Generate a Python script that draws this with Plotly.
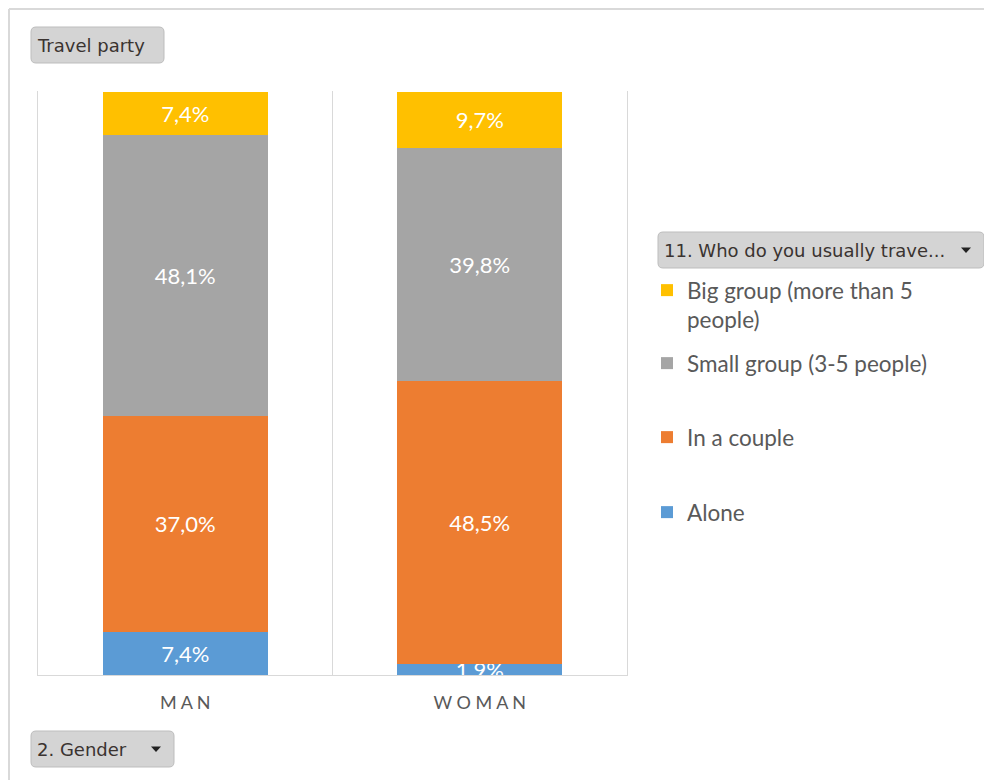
import plotly.graph_objects as go

categories = ["MAN", "WOMAN"]
tick_labels = ["M A N", "W O M A N"]
series_names = ["Alone", "In a couple", "Small group (3-5 people)", "Big group (more than 5<br>people)"]
alone = [7.4, 1.9]
couple = [37.0, 48.5]
small = [48.1, 39.8]
big = [7.4, 9.7]
colors = ["#5B9BD5", "#ED7D31", "#A5A5A5", "#FFC000"]

# page offset of the figure (browser body margin)
OFF = 8
W, H = 992 - OFF, 780 - OFF
L, R, T, B = 38, 627, 91, 675   # plot area in page pixels
PW, PH = R - L, B - T

def px(x):
    return (x - L) / PW

def py(y):
    return (B - y) / PH

FONT = "Lato"
legend_ids = ["legend4", "legend3", "legend2", "legend"]
legend_tops = [491, 416, 342, 269]

fig = go.Figure()
for i, (name, vals) in enumerate(zip(series_names, [alone, couple, small, big])):
    fig.add_trace(go.Bar(
        x=categories, y=vals, name=name,
        marker=dict(color=colors[i], line=dict(width=0)),
        text=[f"{v:.1f}%".replace(".", ",") for v in vals],
        textposition="inside", insidetextanchor="middle", textangle=0,
        constraintext="none",
        textfont=dict(color="white", size=22, family=FONT),
        legend=legend_ids[i],
        hoverinfo="skip",
    ))

shapes = []
annotations = []

# chart border
shapes.append(dict(type="line", xref="paper", yref="paper", x0=px(9), x1=px(9), y0=py(9), y1=py(790),
                   line=dict(color="#d9d9d9", width=2)))
shapes.append(dict(type="line", xref="paper", yref="paper", x0=px(9), x1=px(1000), y0=py(9), y1=py(9),
                   line=dict(color="#d9d9d9", width=2)))

def button(x0, y0, x1, y1, text, arrow=False):
    r = 5
    X0, X1, Y0, Y1 = px(x0), px(x1), py(y0), py(y1)
    rx, ry = r / PW, r / PH
    path = (f"M {X0+rx},{Y0} L {X1-rx},{Y0} Q {X1},{Y0} {X1},{Y0-ry} "
            f"L {X1},{Y1+ry} Q {X1},{Y1} {X1-rx},{Y1} L {X0+rx},{Y1} "
            f"Q {X0},{Y1} {X0},{Y1+ry} L {X0},{Y0-ry} Q {X0},{Y0} {X0+rx},{Y0} Z")
    shapes.append(dict(type="path", xref="paper", yref="paper", path=path,
                       fillcolor="#d4d4d4", line=dict(color="#bdbdbd", width=1)))
    annotations.append(dict(xref="paper", yref="paper", x=px(x0 + 4), y=py((y0 + y1) / 2),
                            xanchor="left", yanchor="middle", showarrow=False, text=text,
                            font=dict(family="DejaVu Sans", size=18, color="#3a3330")))
    if arrow:
        ax = x1 - 18
        ay = (y0 + y1) / 2
        tri = (f"M {px(ax-5)},{py(ay-2.5)} L {px(ax+5)},{py(ay-2.5)} L {px(ax)},{py(ay+3)} Z")
        shapes.append(dict(type="path", xref="paper", yref="paper", path=tri,
                           fillcolor="#222222", line=dict(width=0)))

button(31, 27, 164, 63, "Travel party")
button(658, 232, 984, 268, "11. Who do you usually trave...", arrow=True)
button(31, 731, 174, 767, "2. Gender", arrow=True)

legend_common = dict(xanchor="left", yanchor="top", valign="top",
                     font=dict(family=FONT, size=22.5, color="#595959"),
                     bgcolor="rgba(0,0,0,0)", borderwidth=0)
legends = {}
for lid, top in zip(legend_ids, legend_tops):
    legends[lid] = dict(x=px(647), y=py(top), **legend_common)

fig.update_layout(
    width=W, height=H,
    margin=dict(l=L - OFF, r=992 - R, t=T - OFF, b=780 - B),
    paper_bgcolor="white", plot_bgcolor="white",
    barmode="stack", bargap=0.44,
    showlegend=True,
    uniformtext=dict(minsize=22, mode="show"),
    xaxis=dict(
        type="category", tickvals=categories, ticktext=tick_labels,
        range=[-0.5, 1.5], tickson="boundaries", showgrid=True, gridcolor="#d9d9d9", gridwidth=1,
        showline=True, linecolor="#d9d9d9", linewidth=1,
        ticks="", ticklabelstandoff=11,
        tickfont=dict(family=FONT, size=18, color="#595959"),
        fixedrange=True,
    ),
    yaxis=dict(
        range=[0, 100], showgrid=False, zeroline=False, showticklabels=False,
        showline=True, mirror=True, linecolor="#d9d9d9", linewidth=1, ticks="",
        fixedrange=True,
    ),
    shapes=shapes, annotations=annotations,
    **legends,
)

fig.write_html("out.html")
